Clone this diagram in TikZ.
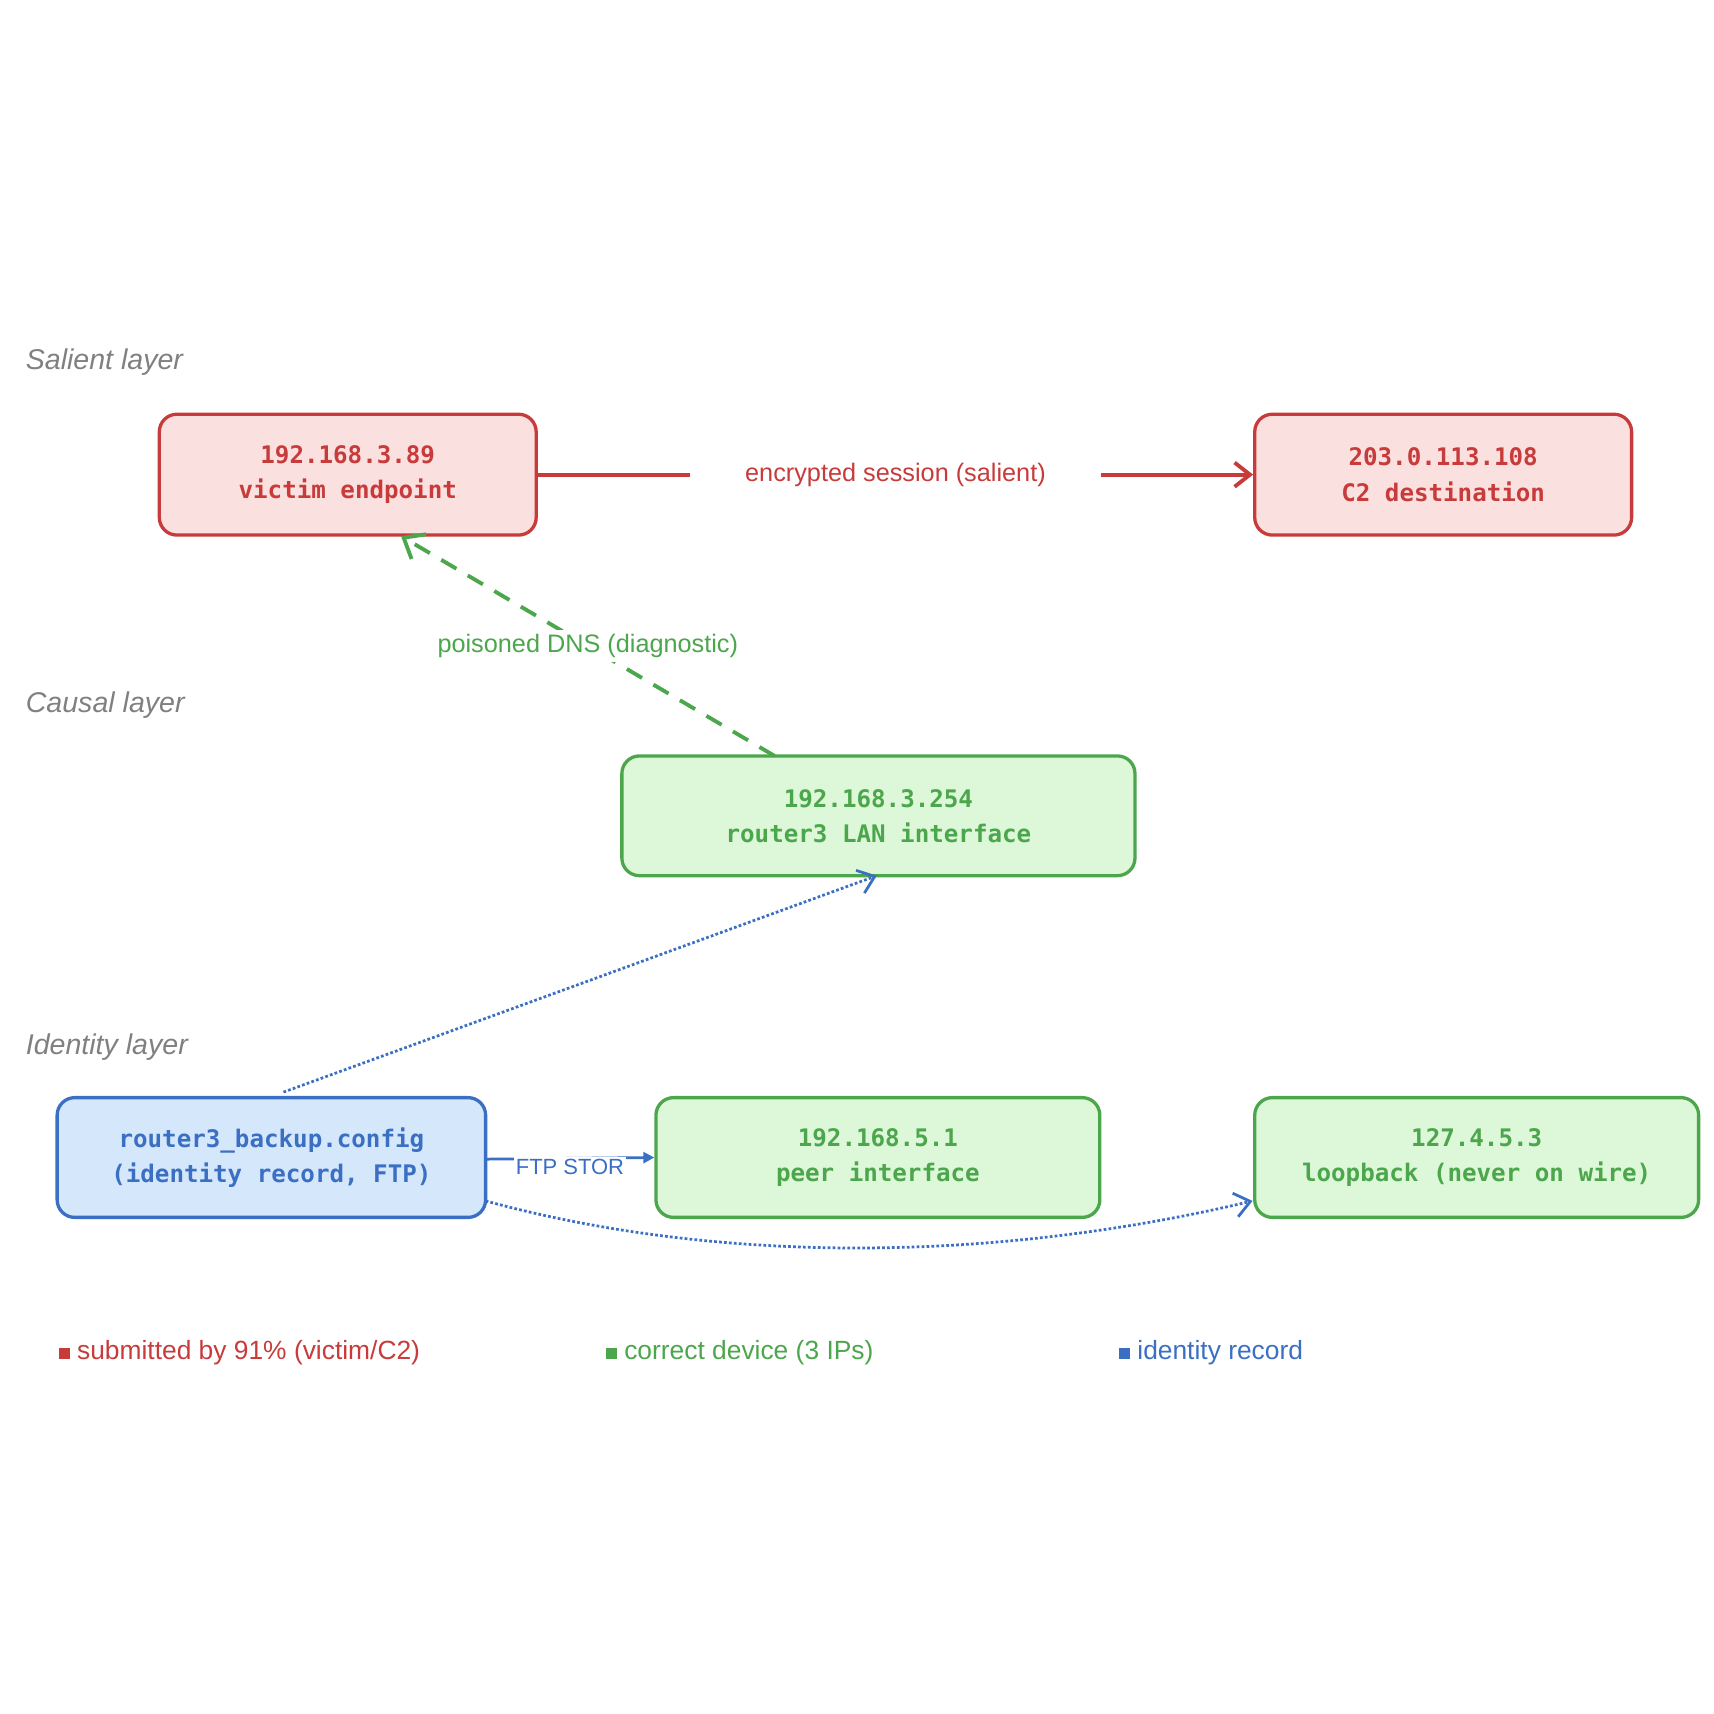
\documentclass[tikz,border=0pt]{standalone}
\usepackage{fontspec}
\setmainfont{Liberation Sans}
\setmonofont{DejaVu Sans Mono}
\usetikzlibrary{arrows.meta}
\definecolor{rd}{HTML}{C83B3B}
\definecolor{rdf}{HTML}{FBE0E0}
\definecolor{gn}{HTML}{4CA64C}
\definecolor{gnf}{HTML}{DDF7D9}
\definecolor{bl}{HTML}{3A6FC4}
\definecolor{blf}{HTML}{D5E7FA}
\newcommand{\sqmark}{\rule{10pt}{10pt}}
\begin{document}
\begin{tikzpicture}[x=1pt,y=-1pt,
 box/.style={draw,line width=3pt,rounded corners=16pt,inner sep=0pt,align=center,font=\fontsize{22}{32}\selectfont\ttfamily\bfseries},
 rbox/.style={box,draw=rd,fill=rdf,text=rd},
 gbox/.style={box,draw=gn,fill=gnf,text=gn},
 bbox/.style={box,draw=bl,fill=blf,text=bl},
 lay/.style={anchor=west,text=gray,font=\fontsize{26}{30}\selectfont\itshape},
 lab/.style={font=\fontsize{23}{28}\selectfont,fill=white,inner sep=4pt},
 leg/.style={anchor=west,font=\fontsize{24}{28}\selectfont}]
\useasboundingbox (0,0) rectangle (1560,1560);
\node[lay] (l1) at (20,330) {Salient layer};
\node[lay] (l2) at (20,642) {Causal layer};
\node[lay] (l3) at (20,953) {Identity layer};
\node[rbox,minimum width=343pt,minimum height=110pt] (v) at (316.5,432) {192.168.3.89\\victim endpoint};
\node[rbox,minimum width=343pt,minimum height=110pt] (c) at (1313.5,432) {203.0.113.108\\C2 destination};
\node[gbox,minimum width=467pt,minimum height=109pt] (r) at (799.5,742.5) {192.168.3.254\\router3 LAN interface};
\node[bbox,minimum width=390pt,minimum height=109pt] (b) at (247,1053.5) {router3\_backup.config\\(identity record, FTP)};
\node[gbox,minimum width=404pt,minimum height=109pt] (p) at (799,1053.5) {192.168.5.1\\peer interface};
\node[gbox,minimum width=404pt,minimum height=109pt] (lo) at (1344,1053.5) {127.4.5.3\\loopback (never on wire)};
\draw[rd,line width=3.5pt,-{Straight Barb[length=14pt,width=22pt]}] (v.east) -- node[lab,text=rd,inner xsep=50pt]{encrypted session (salient)} (c.west);
\coordinate (rt) at (705,688);
\coordinate (vb) at (365,488);
\draw[gn,line width=3.5pt,dash pattern=on 16pt off 12pt,-{Straight Barb[length=16pt,width=26pt]}] (rt) -- node[lab,text=gn,pos=0.5]{poisoned DNS (diagnostic)} (vb);
\coordinate (bt) at (258,994);
\coordinate (rb) at (798,797);
\draw[bl,line width=2.5pt,dotted,-{Straight Barb[length=14pt,width=22pt]}] (bt) -- (rb);
\coordinate (be) at (442,1055);
\draw[bl,line width=2.5pt,-{Triangle[length=10pt,width=10pt]}] (be) -- node[lab,text=bl,font=\fontsize{20}{24}\selectfont,inner sep=2pt,yshift=-8pt]{FTP STOR} (p.west);
\coordinate (bs) at (442,1093);
\coordinate (ls) at (1140,1093);
\draw[bl,line width=2.5pt,dotted,-{Straight Barb[length=14pt,width=22pt]}] (bs) .. controls (650,1150) and (900,1150) .. (ls);
\node[leg,text=rd] (g1) at (50,1231) {\sqmark\ submitted by 91\% (victim/C2)};
\node[leg,text=gn] (g2) at (548,1231) {\sqmark\ correct device (3 IPs)};
\node[leg,text=bl] (g3) at (1015,1231) {\sqmark\ identity record};
\end{tikzpicture}
\end{document}
